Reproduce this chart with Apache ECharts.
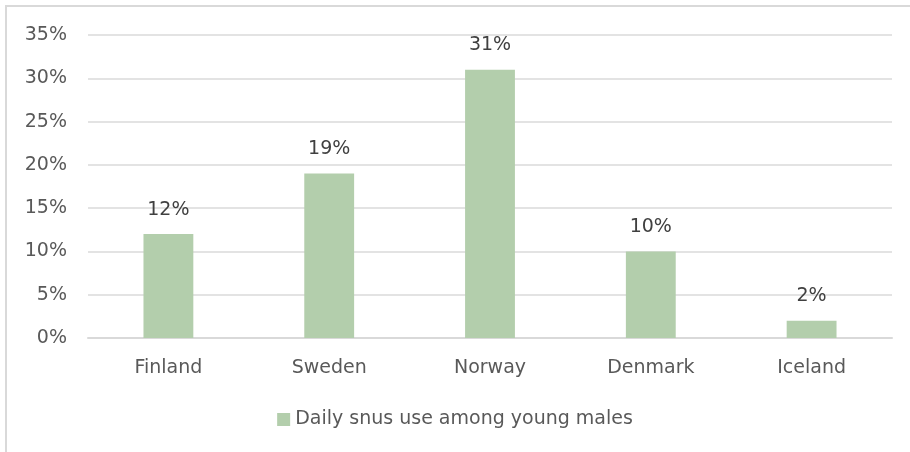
<!DOCTYPE html>
<html>
<head>
<meta charset="utf-8">
<script src="https://cdn.jsdelivr.net/npm/echarts@6/dist/echarts.min.js"></script>
<style>
  html, body { margin: 0; padding: 0; background: #fff; }
  #app { width: 910px; height: 452px; }
</style>
</head>
<body>
<div id="app"></div>
<script>
// values
const countries = ["Finland", "Sweden", "Norway", "Denmark", "Iceland"];
const snusUse = [12, 19, 31, 10, 2];
const seriesName = "Daily snus use among young males";

const chart = echarts.init(document.getElementById("app"));
const textColor = "#595959";
const font = "DejaVu Sans";

chart.setOption({
  animation: false,
  graphic: [{
    type: "rect",
    shape: { x: 6, y: 6, width: 912, height: 460 },
    style: { fill: "none", stroke: "#d9d9d9", lineWidth: 2 },
    silent: true,
  }],
  grid: { left: 88, right: 18, top: 35, bottom: 114, containLabel: false },
  legend: {
    bottom: 18,
    left: "center",
    itemWidth: 13,
    itemHeight: 13,
    itemGap: 7,
    icon: "rect",
    textStyle: { color: textColor, fontSize: 19, fontFamily: font },
    data: [seriesName],
  },
  xAxis: {
    type: "category",
    data: countries,
    axisLine: { lineStyle: { color: "#d9d9d9", width: 2 } },
    axisTick: { show: false },
    axisLabel: { color: textColor, fontSize: 19, fontFamily: font, margin: 21 },
  },
  yAxis: {
    type: "value",
    min: 0,
    max: 35,
    interval: 5,
    axisLine: { show: false },
    axisTick: { show: false },
    splitLine: { lineStyle: { color: "#e3e3e3", width: 2 } },
    axisLabel: {
      color: textColor, fontSize: 19, fontFamily: font, margin: 21,
      formatter: "{value}%",
    },
  },
  series: [{
    name: seriesName,
    type: "bar",
    data: snusUse,
    barWidth: "31%",
    itemStyle: { color: "#b3ceac" },
    label: {
      show: true,
      position: "top",
      distance: 15,
      color: "#404040",
      fontSize: 19,
      fontFamily: font,
      formatter: "{c}%",
    },
  }],
});
</script>
</body>
</html>
